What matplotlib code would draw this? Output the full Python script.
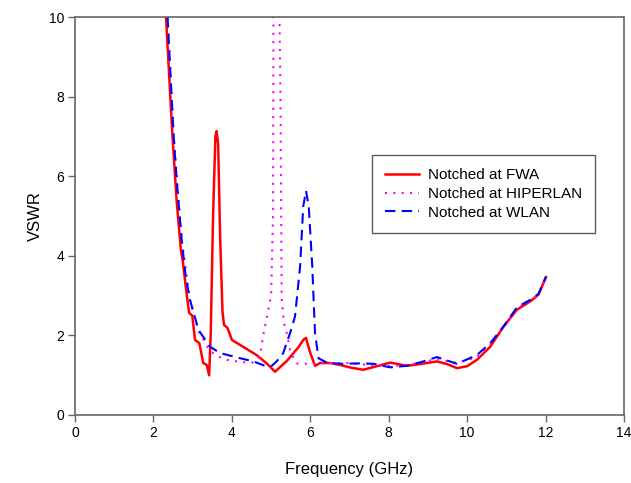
import matplotlib
matplotlib.use("Agg")
import matplotlib.pyplot as plt

plt.rcParams['font.family'] = ['Liberation Sans', 'DejaVu Sans']

# Notched at FWA (red, solid)
fwa_x = [2.32, 2.48, 2.59, 2.70, 2.75, 2.85, 2.91, 2.99, 3.06, 3.17, 3.27, 3.36, 3.42,
         3.46, 3.52, 3.58, 3.61, 3.65, 3.70, 3.76, 3.80, 3.89, 4.0, 4.3, 4.63, 4.9, 5.10,
         5.4, 5.7, 5.82, 5.89, 6.0, 6.12, 6.25, 6.5, 6.76, 7.05, 7.35, 7.7, 8.04, 8.46,
         8.85, 9.23, 9.5, 9.74, 10.0, 10.25, 10.59, 10.93, 11.27, 11.61, 11.82, 12.01]
fwa_y = [10.0, 7.09, 5.4, 4.14, 3.85, 3.0, 2.56, 2.49, 1.88, 1.80, 1.30, 1.25, 0.99,
         2.0, 5.0, 7.0, 7.13, 6.8, 4.5, 2.6, 2.26, 2.18, 1.88, 1.70, 1.50, 1.28, 1.08,
         1.35, 1.70, 1.88, 1.93, 1.55, 1.23, 1.30, 1.30, 1.25, 1.18, 1.13, 1.22, 1.31, 1.23,
         1.28, 1.34, 1.27, 1.17, 1.22, 1.38, 1.71, 2.22, 2.64, 2.85, 3.02, 3.46]

# Notched at HIPERLAN (magenta, dotted)
hip_x = [2.36, 2.51, 2.72, 2.93, 3.15, 3.44, 3.66, 3.87, 4.2, 4.5, 4.65, 4.72, 4.80,
         5.00, 5.05, 5.06, 5.12, 5.20, 5.24, 5.27, 5.33, 5.40, 5.50, 5.65, 6.0, 6.5, 7.0,
         7.5, 8.04, 8.46, 8.85, 9.23, 9.74, 10.25, 10.59, 10.93, 11.27, 11.61, 11.82, 12.01]
hip_y = [10.0, 7.09, 4.4, 2.89, 2.1, 1.6, 1.46, 1.38, 1.33, 1.30, 1.38, 1.50, 2.0,
         3.0, 5.0, 10.0, 14.0, 11.0, 8.0, 2.9, 2.3, 2.05, 1.55, 1.29, 1.28, 1.30, 1.30,
         1.25, 1.22, 1.25, 1.32, 1.40, 1.30, 1.45, 1.76, 2.20, 2.67, 2.87, 3.03, 3.46]

# Notched at WLAN (blue, dashed)
wlan_x = [2.36, 2.51, 2.6, 2.72, 2.82, 2.93, 3.15, 3.44, 3.70, 4.21, 4.55, 4.89, 5.02,
          5.15, 5.31, 5.5, 5.61, 5.74, 5.82, 5.89, 5.96, 6.05, 6.12, 6.21, 6.42, 6.76,
          7.27, 7.61, 8.04, 8.46, 8.85, 9.23, 9.74, 10.25, 10.59, 10.93, 11.27, 11.61,
          11.82, 12.01]
wlan_y = [10.0, 7.09, 5.8, 4.40, 3.5, 2.89, 2.13, 1.71, 1.55, 1.42, 1.34, 1.21, 1.23,
          1.35, 1.55, 2.1, 2.47, 3.73, 5.24, 5.63, 5.24, 3.73, 2.05, 1.42, 1.31, 1.28,
          1.29, 1.28, 1.19, 1.23, 1.33, 1.45, 1.28, 1.50, 1.80, 2.22, 2.70, 2.89, 3.04, 3.47]

x_ticks = [0, 2, 4, 6, 8, 10, 12, 14]
y_ticks = [0, 2, 4, 6, 8, 10]

fig = plt.figure(figsize=(6.31, 4.83), dpi=100)
ax = fig.add_axes([0.1189, 0.1414, 0.87, 0.8234])

ax.plot(fwa_x, fwa_y, color='#FF0000', lw=1.8, label='Notched at FWA')
ax.plot(hip_x, hip_y, color='#FF00FF', lw=1.5, linestyle=(0, (1, 3)), label='Notched at HIPERLAN')
ax.plot(wlan_x, wlan_y, color='#0000FF', lw=1.5, linestyle=(0, (5, 3)), label='Notched at WLAN')

ax.set_xlim(0, 14)
ax.set_ylim(0, 10)
ax.set_xticks(x_ticks)
ax.set_yticks(y_ticks)
ax.tick_params(direction='out', length=5, width=1, color='#666666', labelsize=10, pad=3)
for s in ax.spines.values():
    s.set_color('#666666')
    s.set_linewidth(1.2)

ax.set_xlabel('Frequency (GHz)', fontsize=12, labelpad=16)
ax.set_ylabel('VSWR', fontsize=12, labelpad=4)

leg = ax.legend(loc='upper left', bbox_to_anchor=(0.541, 0.652), fontsize=11,
                frameon=True, fancybox=False, edgecolor='#333333', handlelength=2.2,
                borderpad=0.85, labelspacing=0.3, handletextpad=0.6, borderaxespad=0)
leg.get_frame().set_linewidth(1.0)

fig.savefig('out.png', dpi=100)
